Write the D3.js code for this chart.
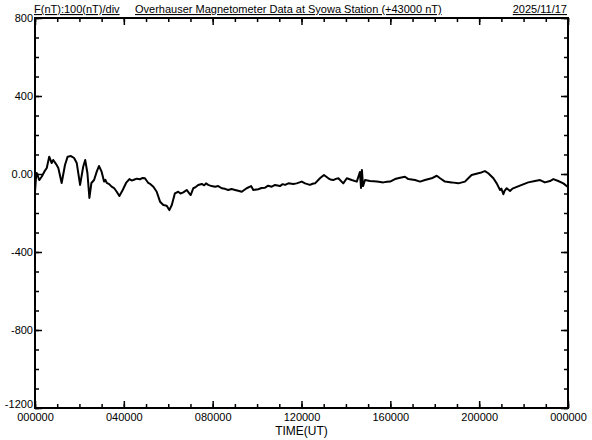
<!DOCTYPE html>
<html><head><meta charset="utf-8">
<script src="https://cdn.jsdelivr.net/npm/d3@7"></script>
<style>
html,body{margin:0;padding:0;background:#fff;}
svg{display:block;font-family:"Liberation Sans",Arial,sans-serif;}
</style></head>
<body>
<svg id="chart" width="592" height="440"></svg>
<script>
// time in hours UT, value in nT (offset from 43000 nT)
const times = [0,0.05,0.08,0.19,0.30,0.42,0.53,0.64,0.75,0.82,0.95,1.05,1.20,1.35,1.47,1.62,1.76,1.88,2.03,2.17,2.26,2.36,2.45,2.54,2.66,2.78,2.88,3.00,3.11,3.17,3.23,3.34,3.45,3.56,3.68,3.80,3.95,4.10,4.25,4.35,4.43,4.58,4.73,4.85,4.95,5.10,5.20,5.33,5.48,5.63,5.78,5.93,6.05,6.16,6.30,6.45,6.55,6.68,6.83,6.92,7.01,7.13,7.25,7.35,7.51,7.62,7.70,7.80,7.95,8.11,8.25,8.41,8.55,8.70,8.85,9.01,9.15,9.31,9.53,9.73,9.83,10.05,10.20,10.36,10.50,10.66,10.81,11.03,11.15,11.26,11.41,11.63,11.78,12.01,12.16,12.38,12.50,12.61,12.83,13.01,13.21,13.30,13.43,13.55,13.66,13.88,14.04,14.26,14.49,14.63,14.68,14.72,14.77,14.86,15.08,15.25,15.39,15.55,15.68,15.85,15.99,16.21,16.44,16.66,16.81,17.11,17.34,17.56,17.86,18.09,18.24,18.46,18.76,19.06,19.36,19.51,19.66,19.96,20.10,20.26,20.41,20.64,20.79,20.94,21.00,21.09,21.15,21.24,21.39,21.50,21.61,21.92,22.21,22.51,22.74,22.96,23.19,23.34,23.56,23.79,23.98];
const values = [-92,-10,5,-31,-14,12,31,89,56,72,51,31,-46,46,89,92,82,56,-56,37,72,5,-123,-46,-31,12,41,12,-39,-30,-46,-52,-65,-72,-91,-113,-82,-46,-26,-33,-31,-24,-27,-20,-22,-46,-52,-65,-91,-142,-159,-163,-185,-159,-99,-91,-100,-94,-82,-95,-108,-73,-66,-56,-51,-58,-48,-56,-62,-65,-62,-73,-76,-82,-77,-82,-86,-91,-73,-62,-82,-78,-72,-70,-60,-65,-56,-62,-52,-56,-48,-51,-48,-39,-48,-56,-50,-48,-22,-5,-22,-28,-31,-25,-22,-48,-22,-31,-39,10,-72,21,-62,-31,-36,-37,-39,-41,-43,-40,-39,-26,-19,-14,-26,-31,-39,-31,-22,-9,-22,-39,-43,-48,-39,-22,-5,4,8,15,4,-22,-48,-82,-75,-104,-85,-73,-87,-75,-70,-56,-43,-36,-31,-43,-36,-26,-36,-48,-65];

const xMajorTicks = [0,4,8,12,16,20,24];
const xTickLabels = ["000000","040000","080000","120000","160000","200000","000000"];
const xMinorTicks = d3.range(0,25,1);
const yMajorTicks = [800,400,0,-400,-800,-1200];
const yTickLabels = ["800","400","0.00","-400","-800","-1200"];
const yMinorTicks = d3.range(-1200,801,100);
const titleLeft = "F(nT):100(nT)/div";
const titleMain = "Overhauser Magnetometer Data at Syowa Station (+43000 nT)";
const dateText = "2025/11/17";
const xAxisTitle = "TIME(UT)";

const svg = d3.select("#chart");
const L = 35, R = 568, T = 18, B = 408;
const x = d3.scaleLinear().domain([0,24]).range([L,R]);
const y = d3.scaleLinear().domain([-1200,800]).range([B,T]);

// minor ticks
svg.append("g").attr("transform",`translate(0,${B})`)
  .call(d3.axisBottom(x).tickValues(xMinorTicks).tickSize(-4).tickFormat(""));
svg.append("g").attr("transform",`translate(0,${T})`)
  .call(d3.axisTop(x).tickValues(xMinorTicks).tickSize(-4).tickFormat(""));
svg.append("g").attr("transform",`translate(${L},0)`)
  .call(d3.axisLeft(y).tickValues(yMinorTicks).tickSize(-4).tickFormat(""));
svg.append("g").attr("transform",`translate(${R},0)`)
  .call(d3.axisRight(y).tickValues(yMinorTicks).tickSize(-4).tickFormat(""));
// major ticks
svg.append("g").attr("class","xmaj").attr("transform",`translate(0,${B})`)
  .call(d3.axisBottom(x).tickValues(xMajorTicks).tickSize(-7).tickPadding(5)
    .tickFormat((d,i)=>xTickLabels[i]));
svg.append("g").attr("transform",`translate(0,${T})`)
  .call(d3.axisTop(x).tickValues(xMajorTicks).tickSize(-7).tickFormat(""));
svg.append("g").attr("class","ymaj").attr("transform",`translate(${L},0)`)
  .call(d3.axisLeft(y).tickValues(yMajorTicks).tickSize(-7).tickPadding(2)
    .tickFormat((d,i)=>yTickLabels[i]));
svg.append("g").attr("transform",`translate(${R},0)`)
  .call(d3.axisRight(y).tickValues(yMajorTicks).tickSize(-7).tickFormat(""));

svg.selectAll(".domain").remove();
svg.selectAll(".tick line").attr("stroke","#000").attr("stroke-width",1.5);
svg.selectAll(".tick text").attr("fill","#000").style("font-size","11px")
  .style("font-family","'Liberation Sans',Arial,sans-serif");
// lowest y label sits just above the bottom frame, as in the reference
svg.selectAll(".ymaj .tick text").filter(d => d === -1200).attr("dy","-0.05em");

// frame
svg.append("rect").attr("x",L).attr("y",T).attr("width",R-L).attr("height",B-T)
  .attr("fill","none").attr("stroke","#000").attr("stroke-width",2);

// data line
const line = d3.line().x((d,i)=>x(times[i])).y(d=>y(d));
svg.append("path").datum(values).attr("d",line)
  .attr("fill","none").attr("stroke","#000").attr("stroke-width",2)
  .attr("stroke-linejoin","round");

// titles
const tstyle = s => s.attr("fill","#000").style("font-size","11px").style("text-decoration","underline");
svg.append("text").attr("x",34).attr("y",13).text(titleLeft).call(tstyle);
svg.append("text").attr("x",135).attr("y",13).text(titleMain).call(tstyle);
svg.append("text").attr("x",567).attr("y",13).attr("text-anchor","end").text(dateText).call(tstyle);
svg.append("text").attr("x",(L+R)/2).attr("y",435).attr("text-anchor","middle")
  .style("font-size","12px").attr("fill","#000").text(xAxisTitle);
</script>
</body></html>
